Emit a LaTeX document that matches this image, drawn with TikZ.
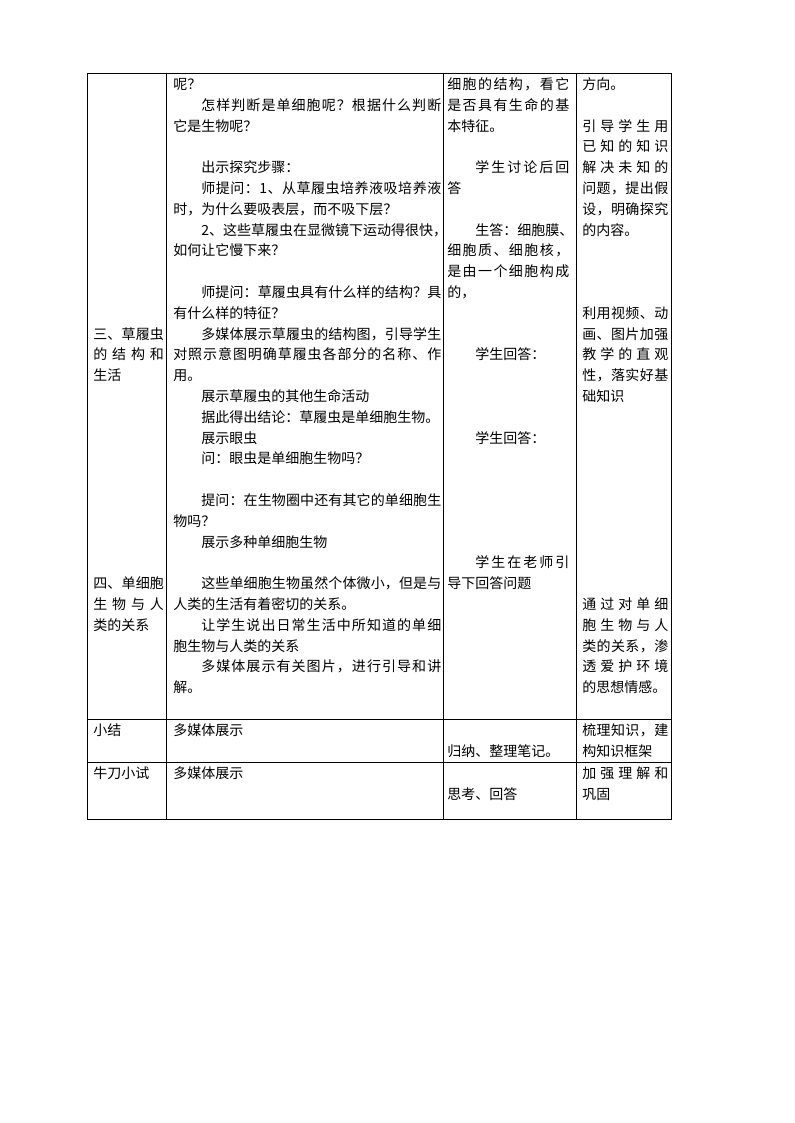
\documentclass[tikz,border=0pt]{standalone}
\usepackage{fontspec}
\setmainfont{Noto Sans CJK SC}
\usetikzlibrary{positioning}

% spread the characters of one line over the whole cell width
\makeatletter
\def\jl#1{\jl@a#1\relax}
\def\jl@a#1{#1\jl@b}
\def\jl@b#1{\ifx\relax#1\else\nobreak\hfill#1\expandafter\jl@b\fi}
\makeatother
\newcommand\ind{\hspace*{2em}}

\begin{document}
\begin{tikzpicture}[x=0.75pt,y=-0.75pt,
	cell/.style={anchor=north west,inner sep=0pt,align=left,text width=#1,
		font=\fontsize{10.5pt}{15.6pt}\selectfont,
		execute at begin node={\rule{0pt}{12.2pt}}},
	rule/.style={line width=0.6pt}]
	\useasboundingbox (0,0) rectangle (794,1123);

	% table frame
	\draw[rule] (87,73) rectangle (671,819);
	\draw[rule] (166,73) -- (166,819);
	\draw[rule] (443,73) -- (443,819);
	\draw[rule] (576,73) -- (576,819);
	\draw[rule] (87,719) -- (671,719);
	\draw[rule] (87,762) -- (671,762);

	% first row, column 1
	\node[cell=53pt] (topicA) at (93,{73+20.8*12}) {\jl{三、草履虫}\\ \jl{的结构和}\\ 生活};
	\node[cell=53pt] (topicB) at (93,{73+20.8*24}) {\jl{四、单细胞}\\ \jl{生物与人}\\ 类的关系};

	% first row, column 2
	\node[cell=201pt] (teachA) at (173,73) {呢？\\
		\ind\jl{怎样判断是单细胞呢？根据什么判断}\\
		它是生物呢？};
	\node[cell=201pt] (teachB) at (173,{73+20.8*4}) {\ind 出示探究步骤：\\
		\ind\jl{师提问：1、从草履虫培养液吸培养液}\\
		时，为什么要吸表层，而不吸下层？\\
		\ind\jl{2、这些草履虫在显微镜下运动得很快，}\\
		如何让它慢下来？};
	\node[cell=201pt] (teachC) at (173,{73+20.8*10}) {\ind\jl{师提问：草履虫具有什么样的结构？具}\\
		有什么样的特征？\\
		\ind\jl{多媒体展示草履虫的结构图，引导学生}\\
		\jl{对照示意图明确草履虫各部分的名称、作}\\
		用。\\
		\ind 展示草履虫的其他生命活动\\
		\ind 据此得出结论：草履虫是单细胞生物。\\
		\ind 展示眼虫\\
		\ind 问：眼虫是单细胞生物吗？};
	\node[cell=201pt] (teachD) at (173,{73+20.8*20}) {\ind\jl{提问：在生物圈中还有其它的单细胞生}\\
		物吗？\\
		\ind 展示多种单细胞生物};
	\node[cell=201pt] (teachE) at (173,{73+20.8*24}) {\ind\jl{这些单细胞生物虽然个体微小，但是与}\\
		人类的生活有着密切的关系。\\
		\ind\jl{让学生说出日常生活中所知道的单细}\\
		胞生物与人类的关系\\
		\ind\jl{多媒体展示有关图片，进行引导和讲}\\
		解。};

	% first row, column 3
	\node[cell=91.5pt] (studA) at (447,73) {\jl{细胞的结构，看它}\\ \jl{是否具有生命的基}\\ 本特征。};
	\node[cell=91.5pt] (studB) at (447,{73+20.8*4}) {\ind\jl{学生讨论后回}\\ 答};
	\node[cell=91.5pt] (studC) at (447,{73+20.8*7}) {\ind 生答：细胞膜、\\
		\jl{细胞质、细胞核，}\\ \jl{是由一个细胞构成}\\ 的，};
	\node[cell=91.5pt] (studD) at (447,{73+20.8*13}) {\ind 学生回答：};
	\node[cell=91.5pt] (studE) at (447,{73+20.8*17}) {\ind 学生回答：};
	\node[cell=91.5pt] (studF) at (447,{73+20.8*23}) {\ind\jl{学生在老师引}\\ 导下回答问题};

	% first row, column 4
	\node[cell=64.5pt] (aimA) at (582,73) {方向。};
	\node[cell=64.5pt] (aimB) at (582,{73+20.8*2}) {\jl{引导学生用}\\ \jl{已知的知识}\\
		\jl{解决未知的}\\ \jl{问题，提出假}\\ \jl{设，明确探究}\\ 的内容。};
	\node[cell=64.5pt] (aimC) at (582,{73+20.8*11}) {\jl{利用视频、动}\\ \jl{画、图片加强}\\
		\jl{教学的直观}\\ \jl{性，落实好基}\\ 础知识};
	\node[cell=64.5pt] (aimD) at (582,{73+20.8*25}) {\jl{通过对单细}\\ \jl{胞生物与人}\\
		\jl{类的关系，渗}\\ \jl{透爱护环境}\\ 的思想情感。};

	% summary row
	\node[cell=53pt] (sumA) at (93,719) {小结};
	\node[cell=201pt] (sumB) at (173,719) {多媒体展示};
	\node[cell=91.5pt] (sumC) at (447,{719+20.8}) {归纳、整理笔记。};
	\node[cell=64.5pt] (sumD) at (582,719) {\jl{梳理知识，建}\\ 构知识框架};

	% exercise row
	\node[cell=53pt] (testA) at (93,762) {牛刀小试};
	\node[cell=201pt] (testB) at (173,762) {多媒体展示};
	\node[cell=91.5pt] (testC) at (447,{762+20.8}) {思考、回答};
	\node[cell=64.5pt] (testD) at (582,762) {\jl{加强理解和}\\ 巩固};
\end{tikzpicture}
\end{document}
